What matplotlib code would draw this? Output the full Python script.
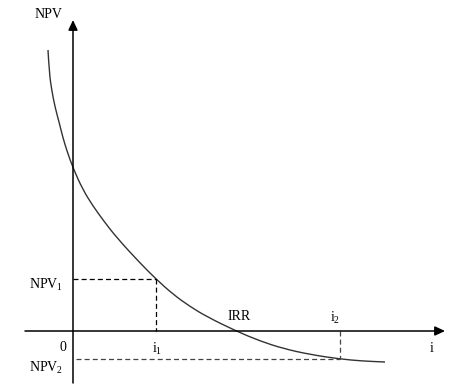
import matplotlib
matplotlib.use("Agg")
import matplotlib.pyplot as plt
from matplotlib.path import Path
from matplotlib.patches import PathPatch

plt.rcParams['font.family'] = ['Liberation Serif', 'DejaVu Serif']
plt.rcParams['mathtext.fontset'] = 'custom'
plt.rcParams['mathtext.rm'] = 'Liberation Serif'
plt.rcParams['mathtext.it'] = 'Liberation Serif'

# NPV profile (arbitrary units, origin where axes cross)
rate = [-25, -23.7, -21.3, -18, -13.7, -10, -6, 0, 10, 20, 30, 44, 67, 83, 100,
        117, 134, 163, 187, 210, 237, 267, 289, 312]
npv = [281, 258, 241, 224, 208, 193, 180, 163, 141, 125, 111, 93, 68, 52, 36.7,
       24.5, 14.2, 0, -10, -17.5, -23.5, -28, -30, -31]

# marked points
i1, npv1 = 83, 52
i2, npv2 = 267, -28
irr = 163

# axis extents
x_axis = (-48, 372)
y_axis = (-52, 311)

fig = plt.figure(figsize=(4.65, 3.88), dpi=100)
ax = fig.add_axes([0, 0, 1, 1])
ax.set_xlim(-73, 392)
ax.set_ylim(-57, 331)
ax.axis('off')

# axes with arrows
arrow = dict(arrowstyle='-|>,head_length=0.6,head_width=0.28', lw=1.1,
             color='black', shrinkA=0, shrinkB=0)
ax.annotate('', xy=(x_axis[1], 0), xytext=(x_axis[0], 0), arrowprops=arrow)
ax.annotate('', xy=(0, y_axis[1]), xytext=(0, y_axis[0]), arrowprops=arrow)

# curve: read points used as quadratic bezier controls so it draws smooth
pts = list(zip(rate, npv))
verts = [pts[0]]
codes = [Path.MOVETO]
for k in range(1, len(pts) - 1):
    mid = ((pts[k][0] + pts[k + 1][0]) / 2, (pts[k][1] + pts[k + 1][1]) / 2)
    verts += [pts[k], mid]
    codes += [Path.CURVE3, Path.CURVE3]
verts.append(pts[-1])
codes.append(Path.LINETO)
ax.add_patch(PathPatch(Path(verts, codes), fill=False, edgecolor='#333333', lw=1.0))

# dashed guides
ax.plot([0, i1], [npv1, npv1], color='black', lw=0.9, ls=(0, (4, 2.5)))
ax.plot([i1, i1], [npv1, 0], color='black', lw=0.9, ls=(0, (4, 2.5)))
ax.plot([3, i2], [npv2, npv2], color='#444444', lw=0.9, ls=(0, (4, 2.5)))
ax.plot([i2, i2], [0, npv2], color='#444444', lw=0.9, ls=(0, (4, 2.5)))

fs = 10
ax.text(-25, 316, 'NPV', fontsize=fs, ha='center', va='center')
ax.text(-10, 46, r'$\mathrm{NPV}_1$', fontsize=fs, ha='right', va='center')
ax.text(-10, -37, r'$\mathrm{NPV}_2$', fontsize=fs, ha='right', va='center')
ax.text(-10.5, -16.5, '0', fontsize=fs, ha='center', va='center')
ax.text(i1 + 1, -18, r'$\mathrm{i}_1$', fontsize=fs, ha='center', va='center')
ax.text(irr + 3, 14, 'IRR', fontsize=fs, ha='center', va='center')
ax.text(i2 - 5, 13, r'$\mathrm{i}_2$', fontsize=fs, ha='center', va='center')
ax.text(359, -18, 'i', fontsize=fs, ha='center', va='center')

fig.savefig('out.png', dpi=100, facecolor='white')
